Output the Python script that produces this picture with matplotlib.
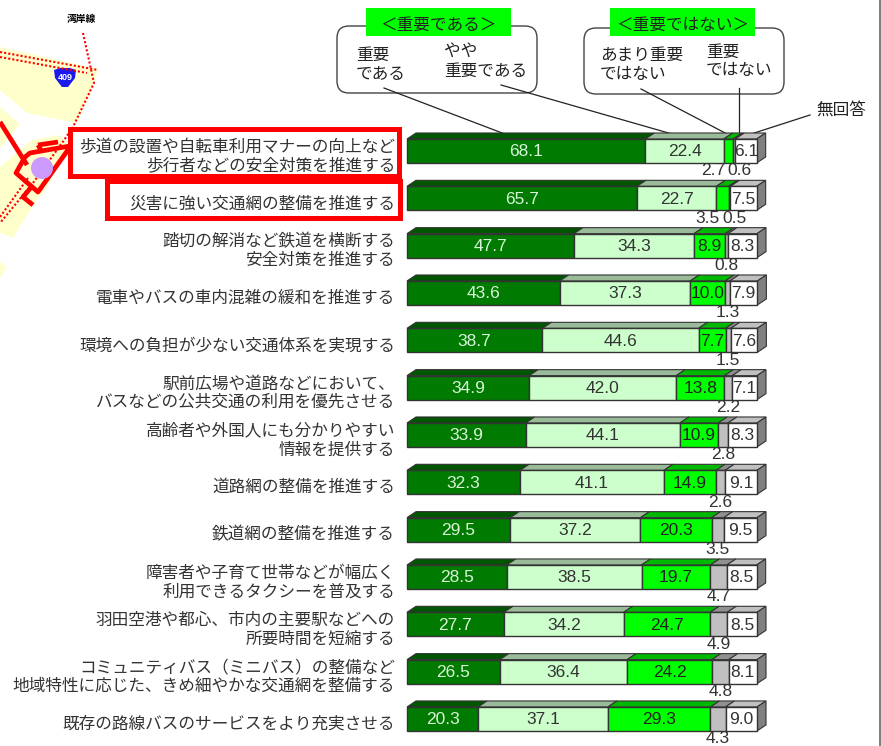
import matplotlib

matplotlib.use("Agg")
import matplotlib.pyplot as plt
import numpy as np
from matplotlib.patches import FancyBboxPatch, Polygon, Rectangle, Circle

plt.rcParams["font.family"] = ["Noto Sans CJK JP", "DejaVu Sans"]

W, H = 881, 746

labels = [
    "歩道の設置や自転車利用マナーの向上など\n歩行者などの安全対策を推進する",
    "災害に強い交通網の整備を推進する",
    "踏切の解消など鉄道を横断する\n安全対策を推進する",
    "電車やバスの車内混雑の緩和を推進する",
    "環境への負担が少ない交通体系を実現する",
    "駅前広場や道路などにおいて、\nバスなどの公共交通の利用を優先させる",
    "高齢者や外国人にも分かりやすい\n情報を提供する",
    "道路網の整備を推進する",
    "鉄道網の整備を推進する",
    "障害者や子育て世帯などが幅広く\n利用できるタクシーを普及する",
    "羽田空港や都心、市内の主要駅などへの\n所要時間を短縮する",
    "コミュニティバス（ミニバス）の整備など\n地域特性に応じた、きめ細やかな交通網を整備する",
    "既存の路線バスのサービスをより充実させる",
]

important = [68.1, 65.7, 47.7, 43.6, 38.7, 34.9, 33.9, 32.3, 29.5, 28.5, 27.7, 26.5, 20.3]
somewhat = [22.4, 22.7, 34.3, 37.3, 44.6, 42.0, 44.1, 41.1, 37.2, 38.5, 34.2, 36.4, 37.1]
not_very = [2.7, 3.5, 8.9, 10.0, 7.7, 13.8, 10.9, 14.9, 20.3, 19.7, 24.7, 24.2, 29.3]
not_imp = [0.6, 0.5, 0.8, 1.3, 1.5, 2.2, 2.8, 2.6, 3.5, 4.7, 4.9, 4.8, 4.3]
no_answer = [6.1, 7.5, 8.3, 7.9, 7.6, 7.1, 8.3, 9.1, 9.5, 8.5, 8.5, 8.1, 9.0]

series = [important, somewhat, not_very, not_imp, no_answer]
front_colors = ["#007a00", "#ccffcc", "#00ff00", "#c0c0c0", "#ffffff"]
top_colors = ["#005500", "#99bb99", "#00b800", "#909090", "#c0c0c0"]
text_colors = ["#d8f5d8", "#333333", "#222222", "#333333", "#333333"]

# map background, in pixels
yellow_areas = [
    [(0, 47), (98, 69), (92, 88), (77, 123), (27, 113), (0, 90)],
    [(0, 107), (20, 124), (0, 148)],
    [(32, 140), (60, 135), (70, 147), (43, 193), (35, 202), (13, 238), (0, 233), (0, 167)],
    [(0, 262), (7, 267), (0, 278)],
]
dotted_routes = [
    [(0, 52), (98, 70)],
    [(0, 57), (87, 73)],
    [(83, 33), (94, 83), (73, 127), (62, 143), (33, 183), (0, 223)],
    [(28, 178), (0, 217)],
]
red_routes = [
    [(0, 122), (27, 165)],
    [(38, 145), (58, 142)],
    [(38, 145), (42, 152)],
    [(70, 146), (30, 153), (25, 157), (16, 173), (38, 192), (70, 147)],
    [(33, 185), (23, 197), (33, 205)],
]
shield = [(54, 70), (60, 68), (70, 68), (76, 70), (75, 78), (68, 87), (62, 87), (55, 78)]

fig = plt.figure(figsize=(W / 100, H / 100), dpi=100)
bg = fig.add_axes([0, 0, 1, 1])
bg.set_xlim(0, W)
bg.set_ylim(H, 0)
bg.axis("off")

# grey strip on the right edge of the page
bg.add_patch(Rectangle((879, 0), 2, H, fc="#808080", ec="none"))

for area in yellow_areas:
    bg.add_patch(Polygon(area, closed=True, fc="#ffffcc", ec="none"))
for route in dotted_routes:
    xs, ys = zip(*route)
    bg.plot(xs, ys, color="#ff0000", lw=1.5, ls=(0, (1, 1)))
for route in red_routes:
    xs, ys = zip(*route)
    bg.plot(xs, ys, color="#ff0000", lw=3.4, solid_capstyle="butt")
bg.add_patch(Circle((42, 168), 11, fc="#cc99ff", ec="none", zorder=3))
bg.add_patch(Polygon(shield, closed=True, fc="#1a1aee", ec="none"))
bg.text(65, 77, "409", color="white", fontsize=6.5, fontweight="bold", ha="center", va="center",
        family="Liberation Sans")
bg.text(81, 19, "湾岸線", color="black", fontsize=7, fontweight="bold", ha="center", va="center")

# highlight frames
bg.add_patch(Rectangle((70, 129), 329, 47, fc="white", ec="#ff0000", lw=3.6, zorder=4))
bg.add_patch(Rectangle((107, 181), 293, 37, fc="white", ec="#ff0000", lw=3.6, zorder=4))

# legend callouts
for x0, y0, w, h in [(337, 26, 200, 67), (584, 28, 200, 66)]:
    bg.add_patch(FancyBboxPatch((x0 + 12, y0 + 12), w - 24, h - 24, boxstyle="round,pad=12,rounding_size=12",
                                fc="white", ec="#444444", lw=1.0))
for x0 in [366, 610]:
    bg.add_patch(Rectangle((x0, 8), 145, 28, fc="#00ff00", ec="none"))

txt = dict(color="#222222", fontsize=12, va="center", zorder=6)
bg.text(438.5, 25, "＜重要である＞", ha="center", **txt)
bg.text(682.5, 25, "＜重要ではない＞", ha="center", **txt)
bg.text(356, 55, "重要", ha="left", **txt)
bg.text(356, 75, "である", ha="left", **txt)
bg.text(444, 51, "やや", ha="left", **txt)
bg.text(444, 71, "重要である", ha="left", **txt)
bg.text(600, 55, "あまり重要", ha="left", **txt)
bg.text(600, 74, "ではない", ha="left", **txt)
bg.text(706, 52, "重要", ha="left", **txt)
bg.text(706, 71, "ではない", ha="left", **txt)
bg.text(841, 111, "無回答", ha="center", **txt)

for (x0, y0), (x1, y1) in [
    ((384, 88), (510, 136)),
    ((501, 85), (679, 136)),
    ((641, 89), (729, 135)),
    ((739, 88), (739, 136)),
    ((810, 115), (748, 135)),
]:
    bg.plot([x0, x1], [y0, y1], color="#222222", lw=0.9, zorder=8)

# chart axes, 0-100 % over 350 px, rows 47.33 px apart
row_px = 47.33
top_px = 151 - row_px / 2
ax = fig.add_axes([407 / W, 1 - (top_px + 13 * row_px) / H, 350 / W, 13 * row_px / H])
ax.patch.set_alpha(0)
ax.set_xlim(0, 100)
ax.set_ylim(12.5, -0.5)
ax.axis("off")

bar_h = 24 / row_px
dx = 9 / 3.5
dy = 6 / row_px
edge = "#333333"
values = np.array(series)
lefts = np.vstack([np.zeros(len(labels)), np.cumsum(values, axis=0)[:-1]])
ys = np.arange(len(labels))

for s in range(len(series)):
    ax.barh(ys, values[s], left=lefts[s], height=bar_h, color=front_colors[s], edgecolor=edge, lw=1.0,
            clip_on=False, zorder=3)

for i in ys:
    yt = i - bar_h / 2
    for s in range(len(series)):
        a = lefts[s, i]
        b = a + values[s, i]
        ax.add_patch(Polygon([(a, yt), (b, yt), (b + dx, yt - dy), (a + dx, yt - dy)], closed=True,
                             fc=top_colors[s], ec=edge, lw=0.8, clip_on=False, zorder=2))
    end = lefts[-1, i] + values[-1, i]
    ax.add_patch(Polygon([(end, yt), (end + dx, yt - dy), (end + dx, yt - dy + bar_h), (end, yt + bar_h)],
                         closed=True, fc="#808080", ec=edge, lw=0.8, clip_on=False, zorder=2))

num = dict(family="Liberation Sans", fontsize=12.5, ha="center", va="center", clip_on=False, zorder=7)
for i in ys:
    for s in range(len(series)):
        v = values[s, i]
        cx = lefts[s, i] + v / 2
        # narrow segments get their number under the bar
        if s == 3:
            shift = 5 / 3.5 if i < 2 else 0
            ax.text(cx + shift, i + 0.42, f"{v:.1f}", color="#333333", **num)
        elif s == 2 and i < 2:
            ax.text(cx - 15 / 3.5, i + 0.42, f"{v:.1f}", color="#333333", **num)
        else:
            ax.text(cx, i + 0.02, f"{v:.1f}", color=text_colors[s], **num)

for i, label in zip(ys, labels):
    y_px = top_px + (i + 0.5) * row_px + 5.5
    bg.text(395, y_px, label, ha="right", va="center", ma="right", fontsize=12, color="#333333",
            linespacing=1.12, zorder=6)

fig.savefig("out.png", dpi=100)
